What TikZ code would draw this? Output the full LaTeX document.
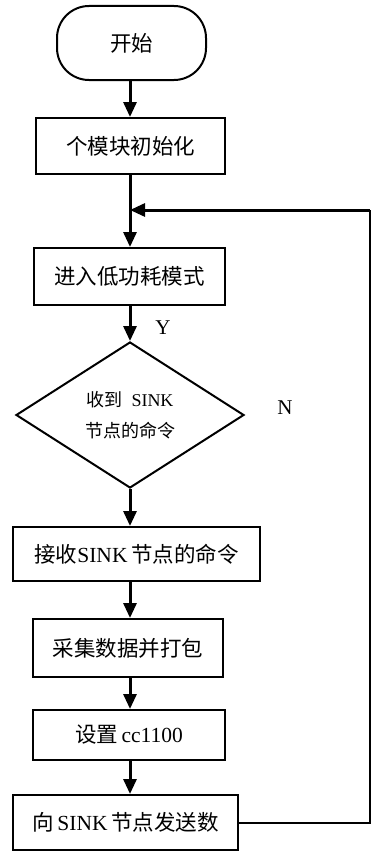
\documentclass[tikz,border=0pt]{standalone}
\usepackage{fontspec}
\setmainfont{Liberation Serif}
\newfontfamily\cjk{Noto Sans CJK SC}
\usetikzlibrary{arrows.meta,shapes.geometric}
\begin{document}
\begin{tikzpicture}[x=1pt,y=1pt,
  box/.style={draw,line width=2pt,inner sep=0pt,font=\fontsize{21.5}{25}\selectfont},
  flow/.style={line width=3pt,-{Triangle[length=15pt,width=13pt]}},
  plain/.style={line width=3pt}]
\useasboundingbox (0,0) rectangle (372,-859);
\coordinate (sp) at (130,0);
\node[box,rounded corners=32pt,minimum width=149pt,minimum height=74pt] (st) at (131.5,-43) {\cjk 开始};
\node[box,minimum width=189pt,minimum height=56pt] (b1) at (130.5,-146) {\cjk 个模块初始化};
\node[box,minimum width=191pt,minimum height=57pt] (b2) at (129.5,-276.5) {\cjk 进入低功耗模式};
\node[diamond,draw,line width=2pt,inner sep=0pt,minimum width=228pt,minimum height=146pt,align=center,font=\fontsize{18}{31}\selectfont] (d) at (130,-415) {{\cjk 收到}\ \ SINK\\{\cjk 节点的命令}};
\node[box,minimum width=247pt,minimum height=54pt] (b3) at (136.5,-554) {{\cjk 接收}SINK\,{\cjk 节点的命令}};
\node[box,minimum width=190pt,minimum height=58pt] (b4) at (128,-648) {\cjk 采集数据并打包};
\node[box,minimum width=192pt,minimum height=50pt] (b5) at (129,-735) {{\cjk 设置}\,cc1100};
\node[box,minimum width=225pt,minimum height=55pt] (b6) at (125.5,-822.5) {{\cjk 向}\,SINK\,{\cjk 节点发送数}};
\node[font=\fontsize{21}{25}\selectfont] (y) at (163,-328) {Y};
\node[font=\fontsize{21}{25}\selectfont] (n) at (285,-408) {N};
\coordinate (j) at (130,-210);
\coordinate (r1) at (370,-822.5);
\coordinate (r2) at (370,-210);
\draw[flow] (st.south -| sp) -- (b1.north -| sp);
\draw[plain] (b1.south -| sp) -- (j);
\draw[flow] (j) -- (b2.north -| sp);
\draw[flow] (b2.south -| sp) -- (d.north);
\draw[flow] (d.south) -- (b3.north -| d.south);
\draw[flow] (b3.south -| sp) -- (b4.north -| sp);
\draw[flow] (b4.south -| sp) -- (b5.north -| sp);
\draw[flow] (b5.south -| sp) -- (b6.north -| sp);
\draw[line width=2pt] (b6.east) -- (r1) -- (r2);
\draw[flow] (r2) -- (j);
\end{tikzpicture}
\end{document}
